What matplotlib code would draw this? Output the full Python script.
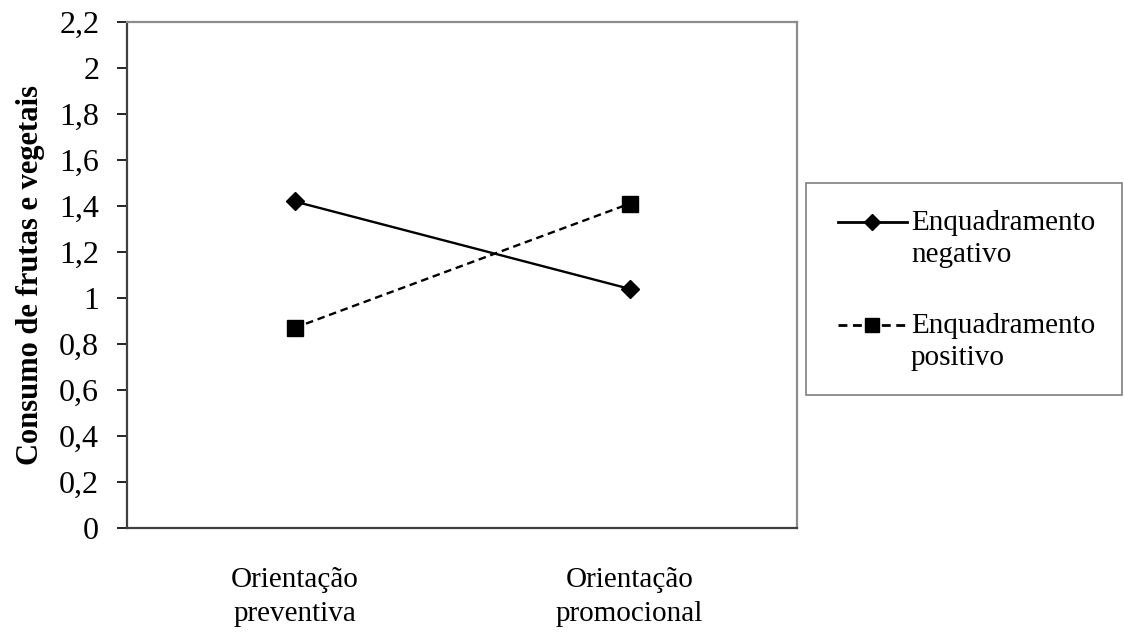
import matplotlib
matplotlib.use("Agg")
import matplotlib.pyplot as plt
from matplotlib.lines import Line2D
from matplotlib.patches import Rectangle

categorias = ["Orientação\npreventiva", "Orientação\npromocional"]
enq_negativo = [1.42, 1.04]
enq_positivo = [0.87, 1.41]
series_labels = ["Enquadramento\nnegativo", "Enquadramento\npositivo"]
yticks = [0, 0.2, 0.4, 0.6, 0.8, 1.0, 1.2, 1.4, 1.6, 1.8, 2.0, 2.2]
ytick_labels = ["0", "0,2", "0,4", "0,6", "0,8", "1", "1,2", "1,4", "1,6", "1,8", "2", "2,2"]

plt.rcParams["font.family"] = ["Liberation Serif", "DejaVu Serif"]

W, H = 1124, 632
fig = plt.figure(figsize=(W / 100, H / 100), dpi=100)
ax = fig.add_axes([127 / W, 1 - 528 / H, 670 / W, 506 / H])

line_styles = [
    dict(color="black", lw=1.7, ls="-"),
    dict(color="black", lw=1.7, ls=(0, (3.2, 2.0))),
]
markers = [("D", 9), ("s", 11)]

x = list(range(len(categorias)))
for vals, st, (m, ms) in zip([enq_negativo, enq_positivo], line_styles, markers):
    ax.plot(x, vals, marker=m, markersize=ms, **st)

ax.set_xlim(-0.5, 1.5)
ax.set_ylim(0, 2.2)
ax.set_yticks(yticks)
ax.set_yticklabels(ytick_labels, fontsize=23)
ax.set_xticks(x)
ax.set_xticklabels(categorias, fontsize=21, linespacing=1.4)
ax.tick_params(axis="y", direction="out", length=7, width=1.2, color="black", pad=13)
ax.tick_params(axis="x", length=0, pad=28)

for side in ("left", "bottom"):
    ax.spines[side].set_color("#404040")
    ax.spines[side].set_linewidth(1.6)
for side in ("top", "right"):
    ax.spines[side].set_color("#8c8c8c")
    ax.spines[side].set_linewidth(1.6)

ax.set_ylabel("Consumo de frutas e vegetais", fontsize=22, fontweight="bold")
ax.yaxis.set_label_coords(-0.122, 0.5)

# legend box drawn by hand so the handle sits on the first text line
fig.add_artist(Rectangle((806 / W, 1 - 395 / H), 316 / W, 212 / H,
                         transform=fig.transFigure, fill=False,
                         edgecolor="#7f7f7f", lw=1.2))
for i, (lab, st, (m, ms)) in enumerate(zip(series_labels, line_styles, markers)):
    y0 = 222 + i * 103
    leg_line = dict(st, lw=2.0)
    fig.add_artist(Line2D([838 / W, 907 / W], [1 - y0 / H] * 2,
                          transform=fig.transFigure, **leg_line))
    fig.add_artist(Line2D([872 / W], [1 - y0 / H], transform=fig.transFigure,
                          color="black", marker=m, markersize=ms - 1, ls="none"))
    for j, line in enumerate(lab.split("\n")):
        fig.text(911 / W, 1 - (y0 + 8 + j * 32) / H, line, fontsize=21,
                 ha="left", va="baseline")

fig.savefig("out.png", dpi=100)
